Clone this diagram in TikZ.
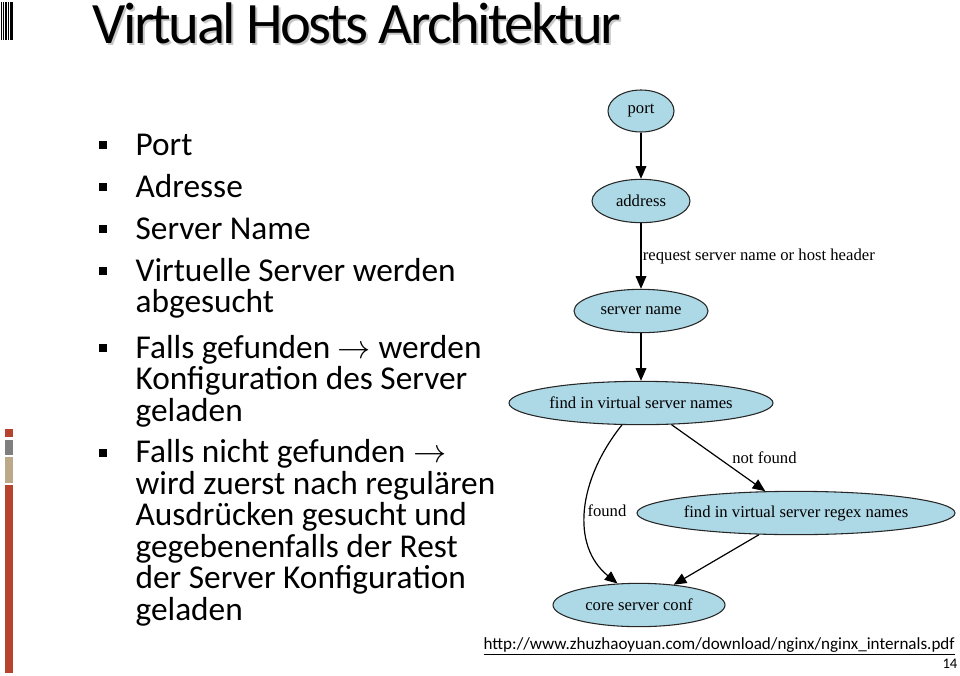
\documentclass[tikz,border=0pt]{standalone}
\usepackage{fontspec}
\setmainfont{Carlito}
\newfontfamily\graphfont{Liberation Serif}
\usetikzlibrary{positioning}
\usetikzlibrary{shapes.geometric}
\usetikzlibrary{arrows.meta}
\definecolor{gvblue}{HTML}{ADD8E6}
\definecolor{barred}{HTML}{B5432E}
\definecolor{bargray}{HTML}{7F7F7F}
\definecolor{bartan}{HTML}{BBA98A}
\tikzset{ed/.style={inner sep=1pt,font=\graphfont\fontsize{12.5}{14}\selectfont}}
\tikzset{>={Triangle[length=9.5pt,width=8pt]}}
\tikzset{gv/.style={draw=black!85, line width=0.8pt, ellipse, fill=gvblue, inner sep=0pt, minimum height=32.5pt, font=\graphfont\fontsize{12.5}{14}\selectfont}}
\tikzset{item/.style={anchor=base west, align=left, inner sep=0pt, font=\fontsize{25}{23.6}\selectfont}}
\tikzset{bul/.style={fill=black, minimum size=5.5pt, inner sep=0pt}}
\tikzset{title/.style={anchor=base west, inner sep=0pt, font=\fontsize{44}{48}\selectfont\addfontfeature{LetterSpace=-4.5}}}

\begin{document}
\begin{tikzpicture}[x=0.75pt, y=-0.75pt, line width=0.9pt]
\useasboundingbox (0,0) rectangle (960,675);

% side bars
\foreach \x in {1.2,2.9,4.6,6.3,8.0}
  \fill[black] (\x,2) rectangle ++(0.9,38);
\fill[black] (9.5,2) rectangle (13.3,40);
\fill[barred] (5,429) rectangle (13,437);
\fill[bargray] (5,440) rectangle (13,455);
\fill[bartan] (5,457) rectangle (13,483);
\fill[barred] (5,485) rectangle (13,673);

% title
\node[title, text=black!22] at (94,45.5) {Virtual Hosts Architektur};
\node[title] (title) at (92,43) {Virtual Hosts Architektur};

% bullets
\foreach \y/\n in {155/1,197/2,239/3,281/4,358/5,463/6}
  \node[bul] (b\n) at (103,\y-10) {};
% base of a multi-line item is its last line
\node[item] (t1) at (135,155) {Port};
\node[item] (t2) at (135,197) {Adresse};
\node[item] (t3) at (135,239) {Server Name};
\node[item] (t4) at (135,312.5) {Virtuelle Server werden\\abgesucht};
\node[item] (t5) at (135,421) {Falls gefunden $\rightarrow$ werden\\Konfiguration des Server\\geladen};
\node[item] (t6) at (135,620) {Falls nicht gefunden $\rightarrow$\\wird zuerst nach regulären\\Ausdrücken gesucht und\\gegebenenfalls der Rest\\der Server Konfiguration\\geladen};

% graph
\node[gv, minimum width=49.5pt, minimum height=31.5pt] (port) at (641,111) {port};
\node[gv, minimum width=73.5pt] (address) at (641,201) {address};
\node[gv, minimum width=100.5pt] (sname) at (641,311) {server name};
\node[gv, minimum width=198pt] (findn) at (641,403) {find in virtual server names};
\node[gv, minimum width=238.5pt] (regex) at (796,513) {find in virtual server regex names};
\node[gv, minimum width=129pt] (core) at (639,605) {core server conf};

\draw[->] (port) -- (address);
\draw[->] (address) -- node[ed, right] {request server name or host header} (sname);
\draw[->] (sname) -- (findn);
\draw[->] (findn) -- node[ed, right=9pt] {not found} (regex);
\draw[->] (findn.229) .. controls +(-44,55) and +(-47,-38) .. node[ed, right] {found} (core.135);
\draw[->] (regex) -- (core);

% footer
\node[anchor=base west, inner sep=0pt, font=\fontsize{12.8}{14}\selectfont] (url) at (483,649)
  {\underline{http://www.zhuzhaoyuan.com/download/nginx/nginx\_internals.pdf}};
\node[anchor=base east, inner sep=0pt, font=\fontsize{11}{12}\selectfont] (page) at (958,668) {14};
\end{tikzpicture}
\end{document}
